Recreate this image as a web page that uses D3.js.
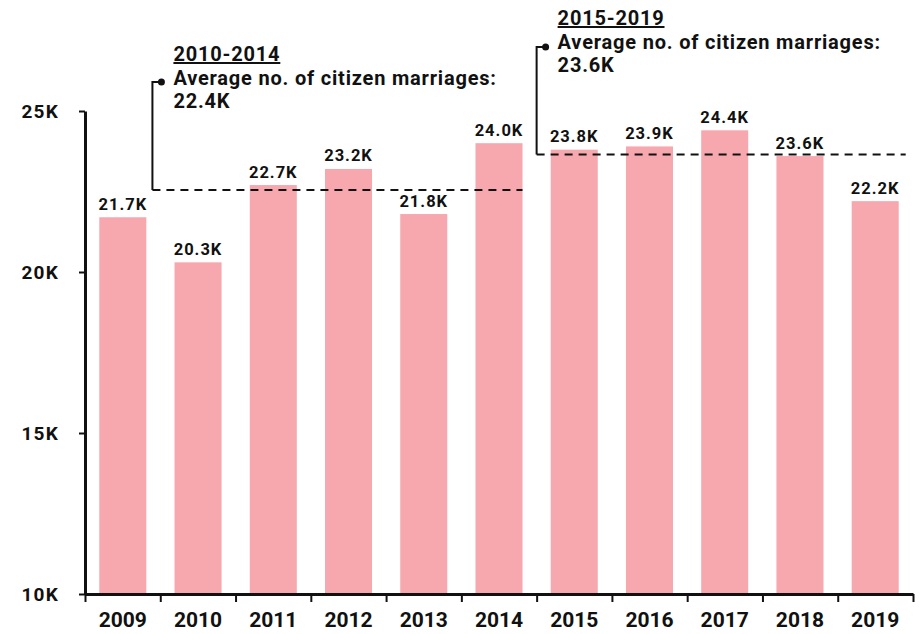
<!DOCTYPE html>
<html>
<head>
<meta charset="utf-8">
<script src="https://cdn.jsdelivr.net/npm/d3@7"></script>
<style>
  body { margin: 0; background: #fff; }
  text { font-family: Roboto, "Liberation Sans", sans-serif; font-weight: bold; fill: #111; }
</style>
</head>
<body>
<div id="chart"></div>
<script>
// data (thousands of citizen marriages)
const years = ["2009", "2010", "2011", "2012", "2013", "2014", "2015", "2016", "2017", "2018", "2019"];
const marriages = [21.7, 20.3, 22.7, 23.2, 21.8, 24.0, 23.8, 23.9, 24.4, 23.6, 22.2];
const yTicks = [10, 15, 20, 25];
const periods = ["2010-2014", "2015-2019"];
const periodStart = ["2010", "2015"];
const periodEnd = ["2014", "2019"];
const periodAvgLabel = ["22.4K", "23.6K"];
const periodAvgLine = [22.55, 23.65]; // where the dashed lines sit in the picture

const width = 920, height = 634;
const margin = { top: 111, right: 7, bottom: 40, left: 85 };

const svg = d3.select("#chart").append("svg")
  .attr("width", width)
  .attr("height", height);

const x = d3.scaleBand()
  .domain(years)
  .range([margin.left, width - margin.right])
  .paddingInner(0.375)
  .paddingOuter(0.19);

const y = d3.scaleLinear()
  .domain([10, 25])
  .range([height - margin.bottom, margin.top]);

// bars
svg.selectAll(".bar")
  .data(years)
  .enter()
  .append("rect")
  .attr("class", "bar")
  .attr("x", d => x(d))
  .attr("width", x.bandwidth())
  .attr("y", (d, i) => y(marriages[i]))
  .attr("height", (d, i) => y(10) - y(marriages[i]))
  .attr("fill", "#f6a8ae");

// value labels
svg.selectAll(".val")
  .data(years)
  .enter()
  .append("text")
  .attr("class", "val")
  .attr("x", d => x(d) + x.bandwidth() / 2)
  .attr("y", (d, i) => y(marriages[i]) - 7.5)
  .attr("text-anchor", "middle")
  .attr("font-size", "16.5px")
  .attr("letter-spacing", "1px")
  .text((d, i) => marriages[i].toFixed(1) + "K");

// y axis
const yAxis = svg.append("g")
  .attr("transform", `translate(${margin.left},0)`)
  .call(d3.axisLeft(y).tickValues(yTicks).tickFormat(d => d + "K").tickSize(6).tickSizeOuter(0).tickPadding(20));
yAxis.select(".domain").attr("stroke", "#111").attr("stroke-width", 3);
yAxis.selectAll(".tick line").attr("stroke", "#111").attr("stroke-width", 2);
yAxis.selectAll(".tick text")
  .attr("font-size", "19px")
  .attr("letter-spacing", "1.2px")
  .attr("font-family", "Roboto, sans-serif")
  .attr("font-weight", "bold")
  .attr("fill", "#111")
  .attr("dy", "0.34em");

// x axis: ticks at band edges, labels centred
const edges = d3.scaleLinear().domain([0, years.length]).range(x.range());
const xAxis = svg.append("g")
  .attr("transform", `translate(0,${y(10)})`)
  .call(d3.axisBottom(edges).tickValues(d3.range(years.length + 1)).tickFormat("").tickSize(8).tickSizeOuter(0));
xAxis.select(".domain").attr("stroke", "#111").attr("stroke-width", 3);
xAxis.selectAll(".tick line").attr("stroke", "#111").attr("stroke-width", 2);

svg.selectAll(".year")
  .data(years)
  .enter()
  .append("text")
  .attr("class", "year")
  .attr("x", d => x(d) + x.bandwidth() / 2)
  .attr("y", y(10) + 33)
  .attr("text-anchor", "middle")
  .attr("font-size", "21px")
  .text(d => d);

// average annotations
const step = x.step();
const bandLeft = d => x(d) - (step - x.bandwidth()) / 2;
const lineX0 = [bandLeft(periodStart[0]) - 8, bandLeft(periodStart[1])];
const lineX1 = [x(periodEnd[0]) + x.bandwidth(), x(periodEnd[1]) + x.bandwidth() + 7];
const bracketTop = [82, 47];
const textBase = [61, 25];

periods.forEach((p, i) => {
  const ly = y(periodAvgLine[i]);
  svg.append("line")
    .attr("x1", lineX0[i]).attr("x2", lineX1[i])
    .attr("y1", ly).attr("y2", ly)
    .attr("stroke", "#111")
    .attr("stroke-width", 2)
    .attr("stroke-dasharray", "8,6");

  svg.append("path")
    .attr("d", `M${lineX0[i]},${ly}V${bracketTop[i]}H${lineX0[i] + 9}`)
    .attr("fill", "none")
    .attr("stroke", "#111")
    .attr("stroke-width", 2);
  svg.append("circle")
    .attr("cx", lineX0[i] + 9).attr("cy", bracketTop[i])
    .attr("r", 3.5)
    .attr("fill", "#111");

  const tx = lineX0[i] + 21;
  const t = svg.append("text")
    .attr("x", tx)
    .attr("y", textBase[i])
    .attr("font-size", "20px")
    .attr("letter-spacing", "0.8px");
  t.append("tspan").attr("x", tx).attr("text-decoration", "underline").text(p);
  t.append("tspan").attr("x", tx).attr("dy", 23.5).text("Average no. of citizen marriages:");
  t.append("tspan").attr("x", tx).attr("dy", 23.5).text(periodAvgLabel[i]);
});
</script>
</body>
</html>
